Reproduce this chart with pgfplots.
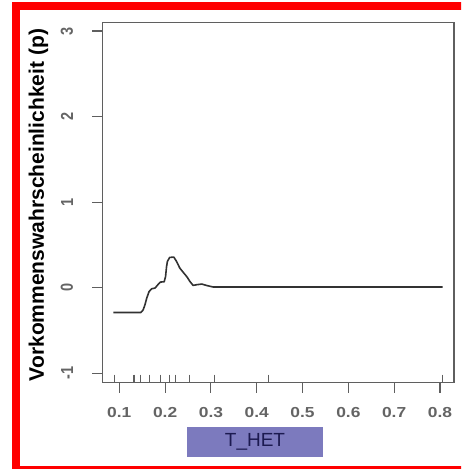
\documentclass[border=0pt]{standalone}
\usepackage{pgfplots}
\pgfplotsset{compat=1.18}
\usepackage{fontspec}
\setmainfont{Liberation Sans}
\definecolor{frame}{RGB}{255,0,0}
\definecolor{axgray}{RGB}{95,95,95}
\definecolor{lblgray}{RGB}{100,100,100}
\definecolor{xlabfill}{RGB}{124,122,190}
\definecolor{xlabtext}{RGB}{28,26,80}
\definecolor{curve}{RGB}{50,50,50}
\begin{document}
\begin{tikzpicture}[x=1pt,y=1pt]
\useasboundingbox (0,0) rectangle (461,469);
\begin{scope}
\clip (0,0) rectangle (461,469);
\draw[frame, line width=7.7pt] (16.3,462.7) rectangle (480,-0.7);
\end{scope}
\begin{axis}[
  at={(102.3pt,86.3pt)}, anchor=south west,
  scale only axis, width=351.7pt, height=360pt,
  xmin=0.0629, xmax=0.8306, ymin=-1.11, ymax=3.097,
  axis line style={axgray, line width=1.1pt},
  tick style={axgray, line width=1.1pt},
  tick align=outside,
  xtick pos=bottom, ytick pos=left,
  xtick={0.1,0.2,0.3,0.4,0.5,0.6,0.7,0.8},
  ytick={-1,0,1,2,3},
  major tick length=10pt,
  /pgf/number format/assume math mode=true,
  xticklabel style={yshift=-11pt, font=\fontsize{14.5}{14.5}\bfseries\selectfont, text=lblgray, xscale=1.2, /pgf/number format/fixed, /pgf/number format/precision=1},
  yticklabel style={xshift=-15pt, font=\fontsize{14.5}{14.5}\bfseries\selectfont, text=lblgray, rotate=90, anchor=south, yscale=1.2},
  xlabel={T\_HET},
  xlabel style={at={(axis description cs:0.4342,-0.1647)}, anchor=center, fill=xlabfill, text=xlabtext, minimum width=135.4pt, minimum height=29.4pt, inner sep=0pt, font=\fontsize{19}{19}\selectfont},
  ylabel={Vorkommenswahrscheinlichkeit (p)},
  ylabel style={at={(axis description cs:-0.1814,0.4936)}, anchor=center, font=\fontsize{21}{21}\bfseries\selectfont, text=black},
  clip=false,
]
\addplot[curve, line width=1.6pt, line join=round] coordinates {
(0.087,-0.29) (0.147,-0.29) (0.152,-0.26) (0.156,-0.20) (0.160,-0.12) (0.165,-0.045) (0.171,-0.012) (0.178,-0.004) (0.185,0.04) (0.190,0.066) (0.198,0.07) (0.201,0.13) (0.203,0.24) (0.205,0.307) (0.210,0.354) (0.219,0.358) (0.225,0.307) (0.232,0.23) (0.239,0.183) (0.248,0.125) (0.254,0.074) (0.261,0.027) (0.269,0.035) (0.280,0.043) (0.290,0.027) (0.305,0.008) (0.806,0.008)
};
\addplot[axgray, only marks, mark=|, mark size=4pt, mark options={line width=1.1pt}] coordinates {
(0.089,-1.063) (0.132,-1.063) (0.147,-1.063) (0.165,-1.063) (0.189,-1.063) (0.209,-1.063) (0.223,-1.063) (0.254,-1.063) (0.308,-1.063) (0.426,-1.063) (0.805,-1.063)
};
\end{axis}
\end{tikzpicture}
\end{document}
